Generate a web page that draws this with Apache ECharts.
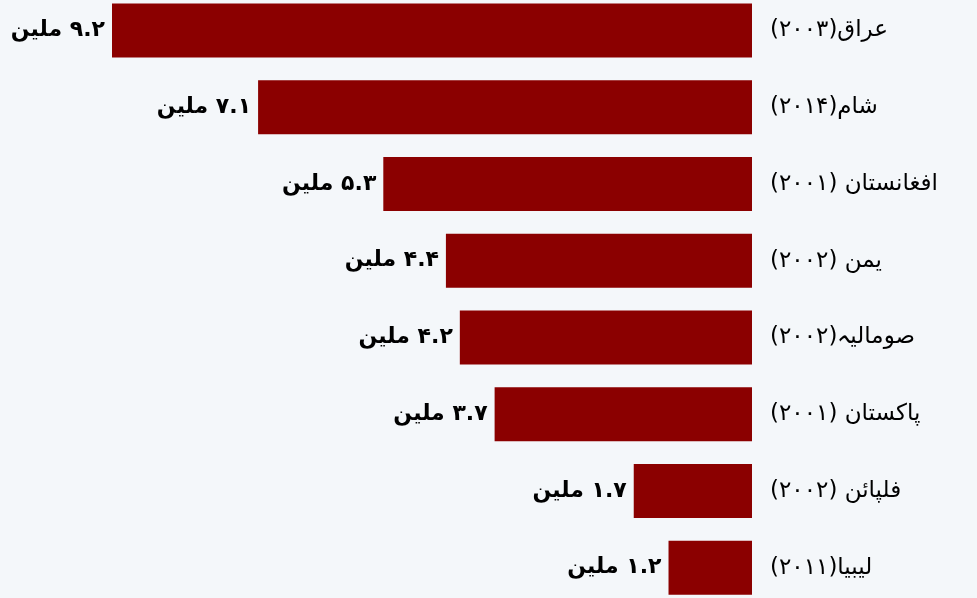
<!DOCTYPE html>
<html>
<head>
<meta charset="utf-8">
<script src="https://cdn.jsdelivr.net/npm/echarts@6/dist/echarts.min.js"></script>
<style>
  html, body { margin: 0; padding: 0; background: #f4f7fa; overflow: hidden; }
  #chart { width: 977px; height: 614px; margin-top: -8px; }
</style>
</head>
<body>
<div id="chart"></div>
<script>
// Categories (country and year of intervention)
const categories = [
  'عراق(۲۰۰۳)',
  'شام(۲۰۱۴)',
  'افغانستان (۲۰۰۱)',
  'یمن (۲۰۰۲)',
  'صومالیہ(۲۰۰۲)',
  'پاکستان (۲۰۰۱)',
  'فلپائن (۲۰۰۲)',
  'لیبیا(۲۰۱۱)'
];
// Values in millions
const values = [9.2, 7.1, 5.3, 4.4, 4.2, 3.7, 1.7, 1.2];
const unit = 'ملین';

const urduDigits = ['۰','۱','۲','۳','۴','۵','۶','۷','۸','۹'];
function toUrdu(v) {
  return String(v).replace(/[0-9]/g, d => urduDigits[+d]);
}

const chart = echarts.init(document.getElementById('chart'), null, { renderer: 'canvas' });
chart.setOption({
  backgroundColor: '#f4f7fa',
  animation: false,
  grid: { left: 112, right: 225, top: 0, bottom: 0 },
  xAxis: {
    type: 'value',
    inverse: true,
    min: 0,
    max: 9.2,
    show: false
  },
  yAxis: {
    type: 'category',
    inverse: true,
    position: 'right',
    data: categories,
    axisLine: { show: false },
    axisTick: { show: false },
    splitLine: { show: false },
    axisLabel: {
      margin: 18,
      align: 'left',
      color: '#000',
      fontSize: 23,
      fontFamily: 'DejaVu Sans'
    }
  },
  series: [{
    type: 'bar',
    data: values,
    barWidth: 54,
    itemStyle: { color: '#8b0000' },
    label: {
      show: true,
      position: 'left',
      distance: 7,
      color: '#000',
      fontSize: 22,
      fontWeight: 'bold',
      fontFamily: 'DejaVu Sans',
      formatter: p => '\u200F' + toUrdu(p.value) + ' ' + unit
    }
  }]
});
</script>
</body>
</html>
